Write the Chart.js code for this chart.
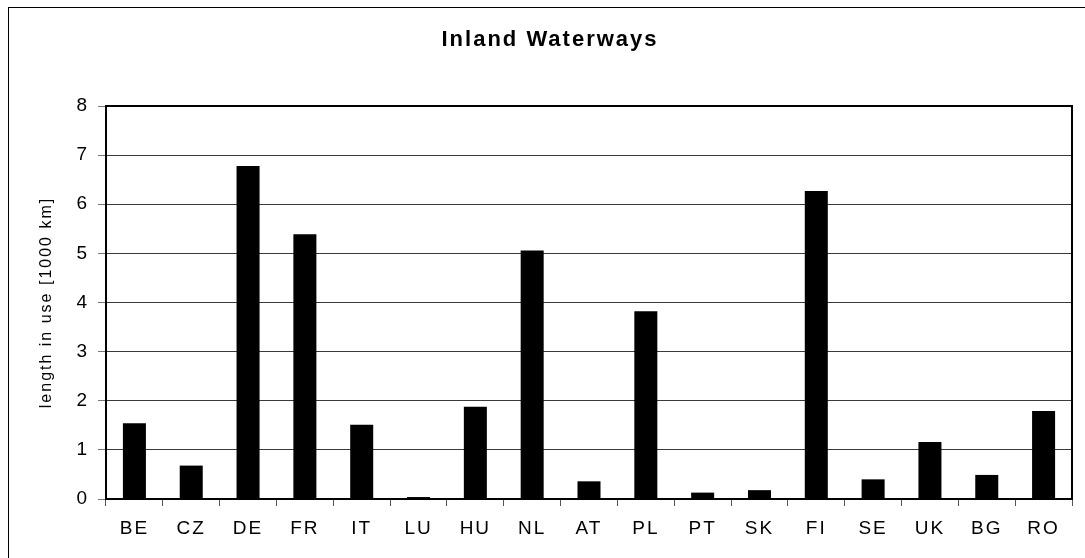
<!DOCTYPE html>
<html><head><meta charset="utf-8">
<script src="https://cdn.jsdelivr.net/npm/chart.js@4"></script>
<style>html,body{margin:0;padding:0;background:#fff;} canvas{display:block;}</style>
</head><body>
<canvas id="c" width="1085" height="558" style="width:1085px;height:558px"></canvas>
<script>
const categories = ['BE','CZ','DE','FR','IT','LU','HU','NL','AT','PL','PT','SK','FI','SE','UK','BG','RO'];
const lengthInUse = [1.54,0.68,6.78,5.39,1.51,0.04,1.88,5.06,0.36,3.82,0.13,0.18,6.27,0.40,1.16,0.49,1.79];
const yTickValues = [0,1,2,3,4,5,6,7,8];
const chartTitle = 'Inland Waterways';
const yAxisTitle = 'length in use [1000 km]';

const SPACING = '2px';
const spacingPlugin = {
  id: 'spacing',
  beforeUpdate(c){ c.ctx.letterSpacing = SPACING; },
  beforeLayout(c){ c.ctx.letterSpacing = SPACING; },
  beforeDraw(c){
    const ctx = c.ctx;
    ctx.letterSpacing = SPACING;
    ctx.save();
    ctx.fillStyle = '#fff';
    ctx.fillRect(0,0,c.width,c.height);
    ctx.strokeStyle = '#000';
    ctx.lineWidth = 1;
    ctx.strokeRect(8.5, 7.5, 3000, 3000);
    ctx.restore();
  },
  afterDraw(c){
    const {ctx, chartArea:a} = c;
    ctx.save();
    ctx.strokeStyle = '#000';
    ctx.lineWidth = 2;
    ctx.strokeRect(a.left, a.top, a.right - a.left, a.bottom - a.top);
    ctx.restore();
  }
};

new Chart(document.getElementById('c'), {
  type: 'bar',
  data: {
    labels: categories,
    datasets: [{
      data: lengthInUse,
      backgroundColor: '#000',
      borderWidth: 0,
      categoryPercentage: 1,
      barPercentage: 0.405
    }]
  },
  options: {
    responsive: false,
    devicePixelRatio: 1,
    animation: false,
    events: [],
    layout: { padding: { left: 28, right: 13, top: 0, bottom: 0 } },
    plugins: {
      legend: { display: false },
      tooltip: { enabled: false },
      title: {
        display: true,
        text: chartTitle,
        color: '#000',
        font: { family: 'Liberation Sans, Arial, sans-serif', size: 22, weight: 'bold', lineHeight: 1.2 },
        padding: { top: 27, bottom: 52.6 }
      }
    },
    scales: {
      x: {
        grid: { offset: true, drawOnChartArea: false, drawTicks: true, tickLength: 7, color: '#555', lineWidth: 1 },
        border: { display: false },
        ticks: { color: '#000', padding: 11, font: { family: 'Liberation Sans, Arial, sans-serif', size: 19 }, maxRotation: 0, autoSkip: false },
        afterFit(s){ s.height = 59; }
      },
      y: {
        min: 0, max: 8,
        afterBuildTicks(s){ s.ticks = yTickValues.map(v => ({ value: v })); },
        grid: { color: '#3a3a3a', lineWidth: 1, tickLength: 8, tickColor: '#777' },
        border: { display: false },
        ticks: { color: '#000', padding: 9, font: { family: 'Liberation Sans, Arial, sans-serif', size: 19 } },
        title: {
          display: true,
          text: yAxisTitle,
          color: '#000',
          font: { family: 'Liberation Sans, Arial, sans-serif', size: 16, lineHeight: 1.2 },
          padding: { top: 8.7, bottom: 0 }
        },
        afterFit(s){ s.width = 78; }
      }
    }
  },
  plugins: [spacingPlugin]
});
</script>
</body></html>
